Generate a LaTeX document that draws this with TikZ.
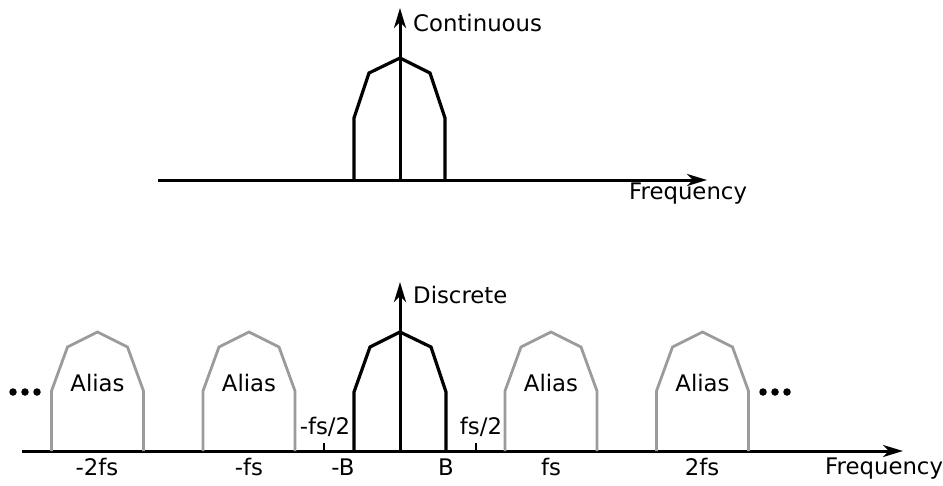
\documentclass[tikz,border=0pt]{standalone}
\usepackage{fontspec}
\setmainfont{DejaVu Sans}
\usetikzlibrary{arrows.meta}
\definecolor{aliasgray}{RGB}{155,155,155}
\begin{document}
\begin{tikzpicture}[x=1pt,y=-1pt,
  axisline/.style={line width=3pt,-{Stealth[length=20pt,width=12pt,inset=6pt]}},
  plainline/.style={line width=2.8pt},
  bandline/.style={line width=3.2pt,line join=miter},
  aliasline/.style={line width=2.8pt,draw=aliasgray},
  lbl/.style={inner sep=0pt,font=\fontsize{22.8}{26}\selectfont},
  dotmark/.style={circle,fill=black,inner sep=0pt,minimum size=7.5pt}]
\useasboundingbox (0,0) rectangle (943,485);
% ---------- top: continuous ----------
\coordinate (tl) at (158,180);
\coordinate (tr) at (707,180);
\coordinate (t0) at (400,180);
\coordinate (ttop) at (400,8);
\draw[axisline] (tl) -- (tr);
\draw[bandline] (354,180) -- (354,118) -- (369,73) -- (400,58) -- (430,73) -- (445,118) -- (445,180);
\draw[axisline] (t0) -- (ttop);
\node[lbl,anchor=west] (cont) at (413,23) {Continuous};
\node[lbl,anchor=west] (freq1) at (629,194) {Frequency};
% ---------- bottom: discrete ----------
\coordinate (bl) at (22,451);
\coordinate (br) at (903,451);
\coordinate (b0) at (400,451);
\coordinate (btop) at (400,282);
\draw[axisline] (bl) -- (br);
\foreach \c/\n in {97.5/a1,249/a2,551/a3,702.5/a4}{
  \draw[aliasline] (\c-46,451) -- (\c-46,391) -- (\c-30,347) -- (\c,332) -- (\c+30,347) -- (\c+46,391) -- (\c+46,451);
  \node[lbl] (\n) at (\c,383) {Alias};
}
\draw[bandline] (354,451) -- (354,392) -- (370,347) -- (400,332) -- (431,347) -- (446,392) -- (446,451);
\draw[axisline] (b0) -- (btop);
\draw[plainline] (324,451) -- (324,443);
\draw[plainline] (476,451) -- (476,443);
\node[lbl,anchor=west] (disc) at (413,295) {Discrete};
\node[lbl,anchor=west] (freq2) at (825,469) {Frequency};
\node[lbl] (m2fs) at (97,467) {-2fs};
\node[lbl] (mfs) at (249,467) {-fs};
\node[lbl] (mB) at (343,467) {-B};
\node[lbl] (pB) at (446,467) {B};
\node[lbl] (pfs) at (551,467) {fs};
\node[lbl] (p2fs) at (702,467) {2fs};
\node[lbl] (mhalf) at (325,427) {-fs/2};
\node[lbl] (phalf) at (481,427) {fs/2};
\foreach \x/\n in {13/d1,25/d2,37/d3,763/d4,775/d5,787/d6}{
  \node[dotmark] (\n) at (\x,392) {};
}
\end{tikzpicture}
\end{document}
